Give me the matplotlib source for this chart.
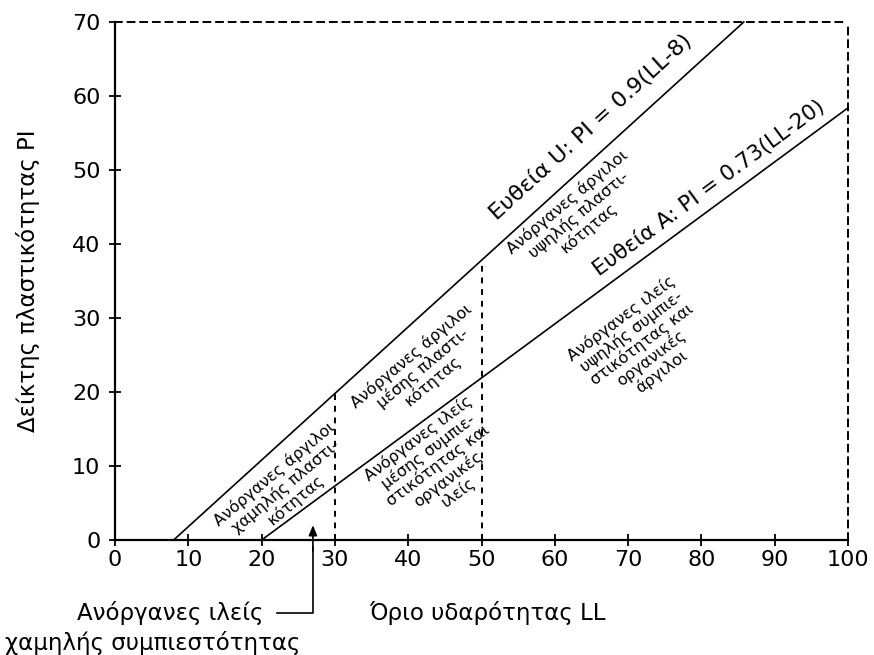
import matplotlib
matplotlib.use("Agg")
import matplotlib.pyplot as plt
import numpy as np

plt.rcParams["font.family"] = ["DejaVu Sans"]

# chart data
ll_ticks = list(range(0, 101, 10))
pi_ticks = list(range(0, 71, 10))
ll_max, pi_max = 100, 70

u_line = {"slope": 0.9, "ll0": 8}      # PI = 0.9(LL-8)
a_line = {"slope": 0.73, "ll0": 20}    # PI = 0.73(LL-20)
divider_ll = [30, 50]

u_label = "Ευθεία U: PI = 0.9(LL-8)"
a_label = "Ευθεία A: PI = 0.73(LL-20)"
region_labels = [
    "Ανόργανες άργιλοι\nχαμηλής πλαστι-\nκότητας",
    "Ανόργανες άργιλοι\nμέσης πλαστι-\nκότητας",
    "Ανόργανες άργιλοι\nυψηλής πλαστι-\nκότητας",
    "Ανόργανες ιλείς\nμέσης συμπιε-\nστικότητας και\nοργανικές\nιλείς",
    "Ανόργανες ιλείς\nυψηλής συμπιε-\nστικότητας και\nοργανικές\nάργιλοι",
]
region_pos = [(23.2, 7.2), (41.9, 23.2), (63.2, 43.9), (44.1, 10.1), (71.8, 26.4)]
region_side = ["U", "U", "U", "A", "A"]
low_silt_label = ["Ανόργανες ιλείς", "χαμηλής συμπιεστότητας"]
xlabel = "Όριο υδαρότητας LL"
ylabel = "Δείκτης πλαστικότητας PI"


def pi_of(line, ll):
    return line["slope"] * (np.asarray(ll, dtype=float) - line["ll0"])


fig = plt.figure(figsize=(8.74, 6.55), dpi=100)
ax = fig.add_axes([0.1316, 0.1756, 0.8387, 0.7908])
ax.set_xlim(0, ll_max)
ax.set_ylim(0, pi_max)

# U-line stops where it meets the top border
u_end = u_line["ll0"] + pi_max / u_line["slope"]
u_x = np.array([u_line["ll0"], u_end])
ax.plot(u_x, pi_of(u_line, u_x), color="black", lw=1.2, clip_on=False)
a_x = np.array([a_line["ll0"], ll_max])
ax.plot(a_x, pi_of(a_line, a_x), color="black", lw=1.2, clip_on=False)

for ll in divider_ll:
    ax.plot([ll, ll], [0, pi_of(u_line, ll)], color="black", lw=1.4,
            ls=(0, (3, 3)))

for side in ("top", "right"):
    ax.spines[side].set_linestyle((0, (3.5, 3)))
    ax.spines[side].set_linewidth(1.4)
for side in ("left", "bottom"):
    ax.spines[side].set_linewidth(1.6)

ax.set_xticks(ll_ticks)
ax.set_yticks(pi_ticks)
ax.tick_params(direction="inout", length=9, width=1.3, labelsize=16,
               top=False, right=False)
ax.tick_params(axis="y", pad=6)
ax.tick_params(axis="x", pad=3)

u_ang = np.degrees(np.arctan(u_line["slope"]))
a_ang = np.degrees(np.arctan(a_line["slope"]))
ax.text(65.0, 55.8, u_label, fontsize=16, rotation=u_ang,
        transform_rotates_text=True, rotation_mode="anchor",
        ha="center", va="center")
ax.text(81.0, 47.6, a_label, fontsize=15.5, rotation=a_ang,
        transform_rotates_text=True, rotation_mode="anchor",
        ha="center", va="center")

for text, (x, y), side in zip(region_labels, region_pos, region_side):
    ang = 40 if side == "U" else 37
    ax.text(x, y, text, fontsize=11.5, rotation=ang, rotation_mode="anchor",
            ha="center", va="center", multialignment="center",
            linespacing=1.05)

# pointer to the low-compressibility silt zone
ax.text(20.3, -9.9, low_silt_label[0], fontsize=16.5, ha="right", va="center",
        clip_on=False)
ax.text(5.2, -13.9, low_silt_label[1], fontsize=16.5, ha="center",
        va="center", clip_on=False)
ax.plot([22.1, 27.0, 27.0], [-9.9, -9.9, -1.0], color="black", lw=1.2,
        clip_on=False)
ax.annotate("", xy=(27.0, 2.0), xytext=(27.0, -1.5),
            arrowprops=dict(arrowstyle="-|>,head_length=0.6,head_width=0.25",
                            color="black", lw=1.2, shrinkA=0, shrinkB=0),
            annotation_clip=False)

ax.text(50.8, -9.9, xlabel, fontsize=16.5, ha="center", va="center",
        clip_on=False)
ax.text(-11.9, 35, ylabel, fontsize=16.5, rotation=90, ha="center",
        va="center", clip_on=False)

fig.savefig("out.png", dpi=100)
